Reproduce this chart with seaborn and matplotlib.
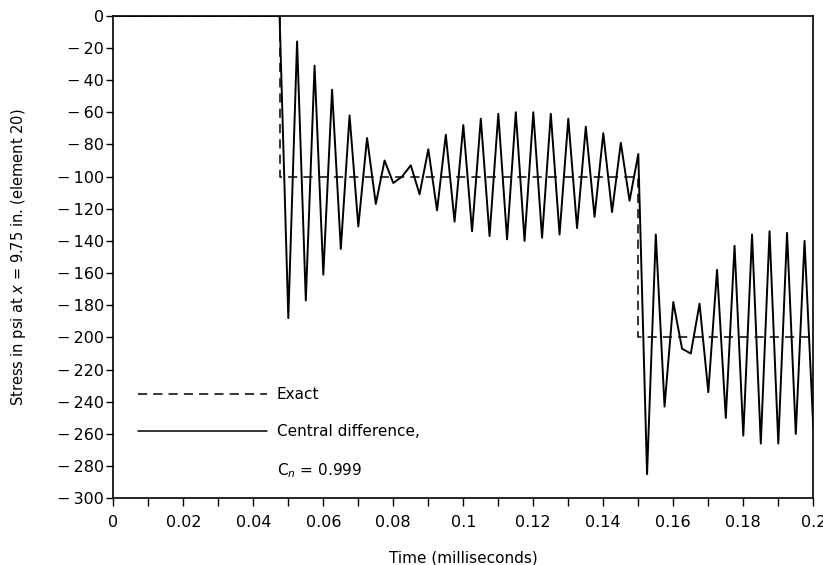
import numpy as np
import pandas as pd
import matplotlib
matplotlib.use('Agg')
import matplotlib.pyplot as plt
from matplotlib.lines import Line2D
from matplotlib.ticker import MultipleLocator
import seaborn as sns

# central difference result (time in ms, stress in psi)
time_ms = [0, 0.0475, 0.05, 0.0525, 0.055, 0.0575, 0.06, 0.0625, 0.065, 0.0675,
           0.07, 0.0725, 0.075, 0.0775, 0.08, 0.0825, 0.085, 0.0875, 0.09, 0.0925,
           0.095, 0.0975, 0.1, 0.1025, 0.105, 0.1075, 0.11, 0.1125, 0.115, 0.1175,
           0.12, 0.1225, 0.125, 0.1275, 0.13, 0.1325, 0.135, 0.1375, 0.14, 0.1425,
           0.145, 0.1475, 0.15, 0.1525, 0.155, 0.1575, 0.16, 0.1625, 0.165, 0.1675,
           0.17, 0.1725, 0.175, 0.1775, 0.18, 0.1825, 0.185, 0.1875, 0.19, 0.1925,
           0.195, 0.1975, 0.2]
stress_cd = [0, 0, -188, -16, -177, -31, -161, -46, -145, -62,
             -131, -76, -117, -90, -104, -100, -93, -111, -83, -121,
             -74, -128, -68, -134, -64, -137, -61, -139, -60, -140,
             -60, -138, -61, -136, -64, -132, -69, -125, -73, -122,
             -79, -115, -86, -285, -136, -243, -178, -207, -210, -179,
             -234, -158, -250, -143, -261, -136, -266, -134, -266, -135,
             -260, -140, -256]

# exact solution (step wave)
exact_time = [0, 0.0475, 0.0475, 0.15, 0.15, 0.2]
exact_stress = [0, 0, -100, -100, -200, -200]

xticks = [0, 0.02, 0.04, 0.06, 0.08, 0.1, 0.12, 0.14, 0.16, 0.18, 0.2]
xtick_labels = ["0", "0.02", "0.04", "0.06", "0.08", "0.1", "0.12", "0.14",
                "0.16", "0.18", "0.2"]
yticks = [0, -20, -40, -60, -80, -100, -120, -140, -160, -180, -200, -220,
          -240, -260, -280, -300]
ytick_labels = ["0", "\u2212\u200920", "\u2212\u200940", "\u2212\u200960",
                "\u2212\u200980", "\u2212\u2009100", "\u2212\u2009120",
                "\u2212\u2009140", "\u2212\u2009160", "\u2212\u2009180",
                "\u2212\u2009200", "\u2212\u2009220", "\u2212\u2009240",
                "\u2212\u2009260", "\u2212\u2009280", "\u2212\u2009300"]

cd = pd.DataFrame({'t': time_ms, 's': stress_cd})
ex = pd.DataFrame({'t': exact_time, 's': exact_stress})

sns.set_theme(style="ticks")
plt.rcParams['font.family'] = ['DejaVu Sans']

fig = plt.figure(figsize=(8.23, 5.65), dpi=100)
ax = fig.add_axes([0.1377, 0.1180, 0.8505, 0.8542])

sns.lineplot(data=cd, x='t', y='s', ax=ax, color='black', lw=1.4,
             estimator=None, sort=False)
sns.lineplot(data=ex, x='t', y='s', ax=ax, color='black', lw=1.1,
             estimator=None, sort=False, dashes=False, linestyle=(0, (6, 4)))

ax.set_xlim(0, 0.2)
ax.set_ylim(-300, 0)
ax.set_xticks(xticks)
ax.set_xticklabels(xtick_labels)
ax.xaxis.set_minor_locator(MultipleLocator(0.01))
ax.set_yticks(yticks)
ax.set_yticklabels(ytick_labels)

ax.tick_params(axis='x', which='both', direction='out', length=5.5, width=1.0,
               labelsize=11.5, pad=6.5, colors='black')
ax.tick_params(axis='y', direction='out', length=5, width=1.0,
               labelsize=11.5, pad=1.5, colors='black')
for sp in ax.spines.values():
    sp.set_visible(True)
    sp.set_linewidth(1.2)
    sp.set_color('black')

ax.set_xlabel('Time (milliseconds)', fontsize=11, labelpad=15, color='black')
ax.set_ylabel('Stress in psi at $x$ = 9.75 in. (element 20)', fontsize=10.5,
              labelpad=21, color='black')

handles = [Line2D([], [], color='black', lw=1.1, linestyle=(0, (6, 4))),
           Line2D([], [], color='black', lw=1.1),
           Line2D([], [], color='none')]
labels = ['Exact', 'Central difference,', 'C$_{n}$ = 0.999']
ax.legend(handles, labels, loc='upper left', bbox_to_anchor=(0.0357, 0.2306),
          frameon=False, fontsize=11, handlelength=8.4, handletextpad=0.65,
          labelspacing=1.46, borderpad=0, borderaxespad=0, labelcolor='black')

fig.savefig('out.png', dpi=100)
